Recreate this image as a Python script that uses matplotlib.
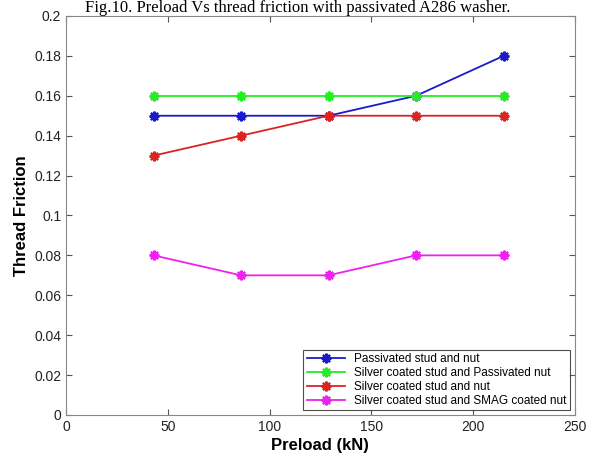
import matplotlib
matplotlib.use("Agg")
import matplotlib.pyplot as plt

preload = [43, 86, 129, 172, 215]
passivated = [0.15, 0.15, 0.15, 0.16, 0.18]
silver_passivated = [0.16, 0.16, 0.16, 0.16, 0.16]
silver = [0.13, 0.14, 0.15, 0.15, 0.15]
silver_smag = [0.08, 0.07, 0.07, 0.08, 0.08]
labels = ["Passivated stud and nut",
          "Silver coated stud and Passivated nut",
          "Silver coated stud and nut",
          "Silver coated stud and SMAG coated nut"]
colors = ["#1a1acc", "#22ee22", "#dd2222", "#ee22ee"]
xticks = [0, 50, 100, 150, 200, 250]
yticks = [0, 0.02, 0.04, 0.06, 0.08, 0.1, 0.12, 0.14, 0.16, 0.18, 0.2]
ytick_labels = ["0", "0.02", "0.04", "0.06", "0.08", "0.1", "0.12", "0.14", "0.16", "0.18", "0.2"]

plt.rcParams['font.family'] = ['Liberation Sans', 'DejaVu Sans']
fig = plt.figure(figsize=(5.95, 4.57), dpi=100)
ax = fig.add_axes([0.111, 0.092, 0.855, 0.873])

for ys, c, lab in zip([passivated, silver_passivated, silver, silver_smag], colors, labels):
    ax.plot(preload, ys, color=c, marker=(8, 2, 0), markersize=7, markeredgewidth=1.6,
            linewidth=1.3, label=lab)

ax.set_xlim(0, 250)
ax.set_ylim(0, 0.2)
ax.set_xticks(xticks)
ax.set_yticks(yticks)
ax.set_yticklabels(ytick_labels)
ax.tick_params(direction='in', top=True, right=True, labelsize=10, colors='#555555',
               labelcolor='#222222', length=4)
for s in ax.spines.values():
    s.set_color('#888888')
ax.set_xlabel("Preload (kN)", fontsize=12, fontweight='bold', labelpad=3)
ax.set_ylabel("Thread Friction", fontsize=12, fontweight='bold', labelpad=4)

leg = ax.legend(loc='lower right', fontsize=8.5, frameon=True, fancybox=False,
                edgecolor='#222222', borderpad=0.3, labelspacing=0.15, handlelength=3.2,
                borderaxespad=0.4)
leg.get_frame().set_linewidth(0.8)

fig.text(0.5, (457 - 12) / 457, "Fig.10. Preload Vs thread friction with passivated A286 washer.",
         ha='center', va='baseline', fontsize=12, family=['Liberation Serif', 'DejaVu Serif'])

fig.savefig("out.png", dpi=100)
